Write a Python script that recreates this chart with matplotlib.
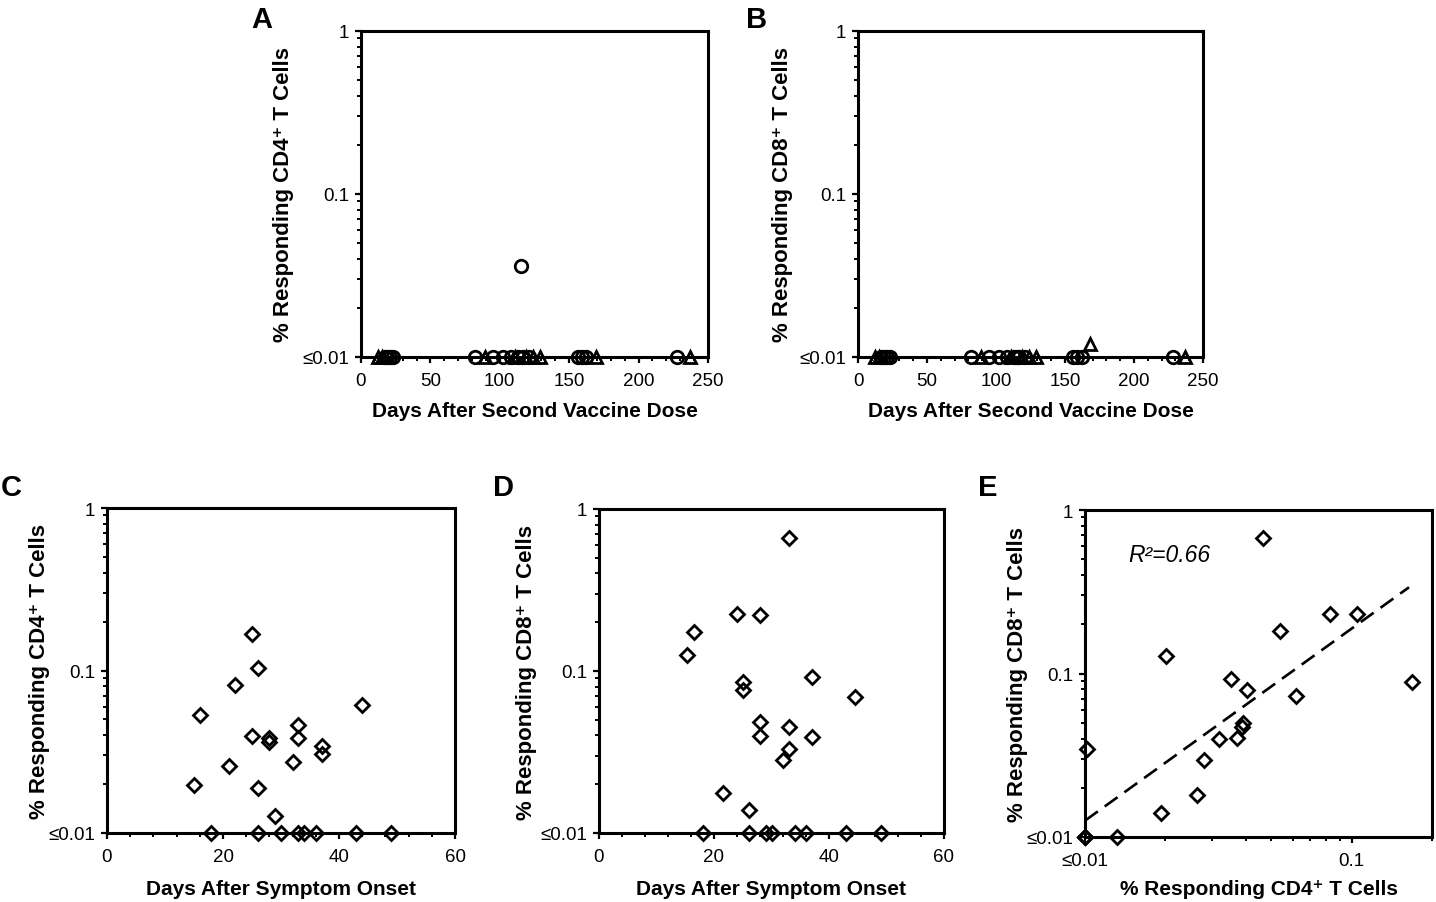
import numpy as np
import matplotlib
matplotlib.use("Agg")
import matplotlib.pyplot as plt
from matplotlib.ticker import FixedLocator, MultipleLocator, LogLocator, NullFormatter

plt.rcParams['font.family'] = ['Liberation Sans', 'DejaVu Sans']

# ---- data ----
# A: CD4, vaccinated (circles / triangles), days after 2nd dose
a_circ_days = [17, 19, 21, 23, 82, 95, 102, 108, 113, 117, 121, 156, 159, 162, 228, 115]
a_circ_vals = [0.01] * 15 + [0.036]
a_tri_days = [12, 15, 89, 111, 119, 124, 129, 169, 237]
a_tri_vals = [0.01] * 9

# B: CD8, vaccinated
b_circ_days = [17, 19, 21, 23, 82, 95, 102, 108, 113, 115, 117, 121, 156, 159, 162, 228]
b_circ_vals = [0.01] * 16
b_tri_days = [12, 15, 89, 111, 119, 124, 129, 168, 237]
b_tri_vals = [0.01] * 7 + [0.012, 0.01]

# C: CD4, infected, days after symptom onset
c_days = [25, 26, 22, 16, 44, 33, 25, 28, 28, 33, 37, 37, 32, 21, 15, 26, 29,
          18, 26, 30, 33, 34, 36, 43, 49]
c_vals = [0.168, 0.103, 0.082, 0.053, 0.061, 0.046, 0.0395, 0.0383, 0.0363, 0.0383,
          0.0343, 0.0307, 0.0273, 0.026, 0.0197, 0.0188, 0.0128,
          0.01, 0.01, 0.01, 0.01, 0.01, 0.01, 0.01, 0.01]

# D: CD8, infected
d_days = [33, 24, 28, 16.5, 15.3, 37, 25, 25, 44.5, 28, 33, 28, 37, 33, 32, 21.5, 26,
          18, 26, 29, 30, 34, 36, 43, 49]
d_vals = [0.658, 0.224, 0.223, 0.174, 0.125, 0.0915, 0.086, 0.0765, 0.0695, 0.0484,
          0.0449, 0.0395, 0.0392, 0.0331, 0.0284, 0.0177, 0.0138,
          0.01, 0.01, 0.01, 0.01, 0.01, 0.01, 0.01, 0.01]

# E: CD4 vs CD8
e_cd4 = [0.0466, 0.083, 0.1045, 0.0538, 0.0201, 0.0352, 0.169, 0.0404, 0.062, 0.0391,
         0.0387, 0.0319, 0.037, 0.028, 0.0102, 0.0264, 0.0192, 0.0132,
         0.01, 0.01, 0.01]
e_cd8 = [0.673, 0.231, 0.231, 0.182, 0.128, 0.0931, 0.089, 0.079, 0.0726, 0.050,
         0.047, 0.0399, 0.0406, 0.0297, 0.0343, 0.0181, 0.0140, 0.01,
         0.01, 0.01, 0.01]
fit_slope = 1.175       # log10(CD8) = slope*log10(CD4) + intercept
fit_intercept = 0.45
fit_range = [0.01, 0.164]
r2_text = 'R²=0.66'

W, H = 1436, 903
fig = plt.figure(figsize=(W / 100, H / 100), dpi=100)


def rect(l, r, t, b):
    return [l / W, 1 - b / H, (r - l) / W, (b - t) / H]


def style_log_y(ax):
    ax.set_yscale('log')
    ax.set_ylim(0.01, 1)
    ax.yaxis.set_major_locator(FixedLocator([0.01, 0.1, 1]))
    ax.set_yticklabels(['≤0.01', '0.1', '1'])
    ax.yaxis.set_minor_locator(LogLocator(base=10, subs=np.arange(2, 10)))
    ax.yaxis.set_minor_formatter(NullFormatter())


def common(ax):
    for s in ax.spines.values():
        s.set_linewidth(2.2)
    ax.tick_params(which='major', direction='out', length=4.5, width=1.6, labelsize=13.5)
    ax.tick_params(which='minor', direction='out', length=3, width=1.4)
    ax.tick_params(axis='x', which='major', pad=6)
    ax.tick_params(axis='y', which='major', pad=4)


mk = dict(mfc='none', mec='black', mew=2.0, ls='none', clip_on=False, zorder=5)
xlab = dict(fontsize=15, fontweight='bold')
ylab = dict(fontsize=16, fontweight='bold')

# ---- A and B ----
axA = fig.add_axes(rect(361, 708, 32, 358))
axB = fig.add_axes(rect(858, 1203, 32, 358))
for ax, cd, cv, td, tv, cell in [(axA, a_circ_days, a_circ_vals, a_tri_days, a_tri_vals, 'CD4'),
                                  (axB, b_circ_days, b_circ_vals, b_tri_days, b_tri_vals, 'CD8')]:
    ax.plot(cd, cv, marker='o', ms=9, **mk)
    ax.plot(td, tv, marker='^', ms=9, **mk)
    style_log_y(ax)
    ax.set_xlim(0, 250)
    ax.xaxis.set_major_locator(MultipleLocator(50))
    ax.xaxis.set_minor_locator(MultipleLocator(10))
    common(ax)
    ax.set_xlabel('Days After Second Vaccine Dose', **xlab)
    ax.set_ylabel('% Responding ' + cell + '⁺ T Cells', **ylab)
    ax.xaxis.set_label_coords(0.5, -0.135)
axA.yaxis.set_label_coords(-0.193, 0.5)
axB.yaxis.set_label_coords(-0.188, 0.5)

# ---- C and D ----
axC = fig.add_axes(rect(107, 455, 509, 834))
axD = fig.add_axes(rect(599, 944, 510, 834))
for ax, xd, yv, cell in [(axC, c_days, c_vals, 'CD4'), (axD, d_days, d_vals, 'CD8')]:
    ax.plot(xd, yv, marker='D', ms=6.8, **mk)
    style_log_y(ax)
    ax.set_xlim(0, 60)
    ax.xaxis.set_major_locator(MultipleLocator(20))
    ax.xaxis.set_minor_locator(MultipleLocator(4))
    common(ax)
    ax.set_xlabel('Days After Symptom Onset', **xlab)
    ax.set_ylabel('% Responding ' + cell + '⁺ T Cells', **ylab)
    ax.xaxis.set_label_coords(0.5, -0.142)
axC.yaxis.set_label_coords(-0.164, 0.5)
axD.yaxis.set_label_coords(-0.18, 0.5)

# ---- E ----
axE = fig.add_axes(rect(1085, 1432, 511, 838))
axE.plot(e_cd4, e_cd8, marker='D', ms=6.8, **mk)
fx = np.array(fit_range)
fy = 10 ** (fit_slope * np.log10(fx) + fit_intercept)
axE.plot(fx, fy, color='black', lw=1.9, ls=(0, (6.0, 3.2)), zorder=4)
style_log_y(axE)
axE.set_xscale('log')
axE.set_xlim(0.01, 0.2)
axE.xaxis.set_major_locator(FixedLocator([0.01, 0.1]))
axE.set_xticklabels(['≤0.01', '0.1'])
axE.xaxis.set_minor_locator(LogLocator(base=10, subs=np.arange(2, 10)))
axE.xaxis.set_minor_formatter(NullFormatter())
common(axE)
axE.set_xlabel('% Responding CD4⁺ T Cells', **xlab)
axE.set_ylabel('% Responding CD8⁺ T Cells', **ylab)
axE.xaxis.set_label_coords(0.5, -0.128)
axE.yaxis.set_label_coords(-0.164, 0.5)
axE.text(0.124, 0.865, r2_text, transform=axE.transAxes, fontsize=16.5,
         style='italic', va='center', ha='left')

# panel letters
for letter, x, y in [('A', 262, 20), ('B', 757, 20), ('C', 11, 488),
                     ('D', 504, 488), ('E', 988, 488)]:
    fig.text(x / W, 1 - y / H, letter, fontsize=21, fontweight='bold',
             ha='center', va='center')

fig.savefig('out.png', dpi=100)
